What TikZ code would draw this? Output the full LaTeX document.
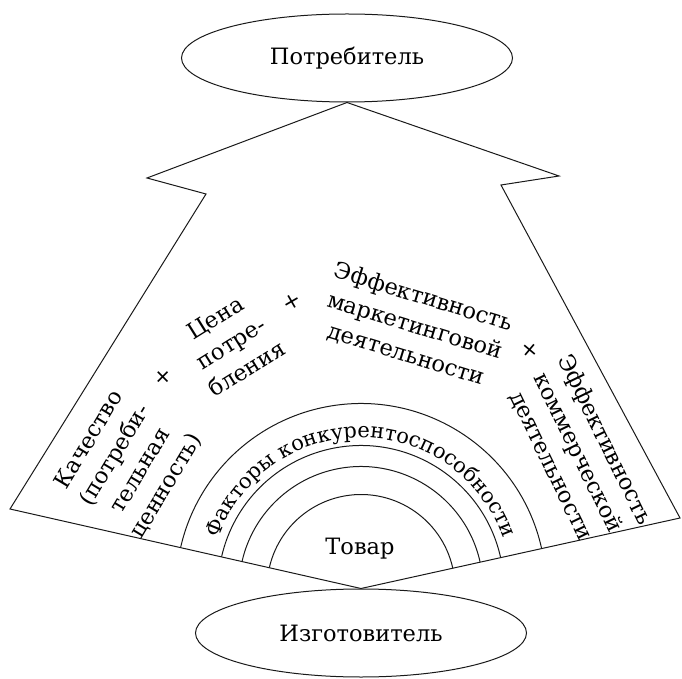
\documentclass[tikz,border=0pt]{standalone}
\usepackage{fontspec}
\setmainfont{DejaVu Serif}
\usetikzlibrary{shapes.geometric,decorations.text}
\newcommand\arcfont{\fontsize{21}{24}\selectfont}

\begin{document}
\begin{tikzpicture}[x=1pt,y=1pt,line width=1pt,black!90,
      oval/.style={draw,ellipse,minimum width=331pt,minimum height=88pt,inner sep=0pt},
      lbl/.style={text=black,align=center,font=\fontsize{22.5}{30}\selectfont},
      plus/.style={text=black,font=\fontsize{22}{24}\selectfont}]
      \useasboundingbox (0,0) rectangle (682,678);
      \node[oval,lbl] (cons) at (347,620) {Потребитель};
      \node[oval,lbl] (maker) at (361,45) {Изготовитель};
      \coordinate (ro) at (559,502);
      \coordinate (ri) at (501,493);
      \coordinate (rb) at (680,160);
      \coordinate (lb) at (10,169);
      \coordinate (li) at (206,484);
      \coordinate (lo) at (147,500);
      \draw (cons.south)--(ro)--(ri)--(rb)--(maker.north)--(lb)--(li)--(lo)--cycle;
      \foreach \r in {94,122,143,185}
            \draw (maker.north) ++(12.55:\r) arc[start angle=12.55,end angle=167.16,radius=\r];
      \path[decorate,decoration={text along path,text align=center,
            text={|\arcfont|Факторы конкурентоспособности}}]
            (maker.north) ++(167:151) arc[start angle=167,end angle=13,radius=151];
      \node[lbl] (goods) at (360,129) {Товар};
      \node[lbl,rotate=59] (quality) at (128,215) {Качество\\(потреби-\\тельная\\ценность)};
      \node[lbl,rotate=32] (price) at (231,335) {Цена\\потре-\\бления};
      \node[lbl,rotate=-17] (market) at (415,352) {Эффективность\\маркетинговой\\деятельности};
      \node[lbl,rotate=-64] (commerce) at (578,225) {Эффективность\\коммерческой\\деятельности};
      \node[plus,rotate=45] (p1) at (163,301) {+};
      \node[plus,rotate=30] (p2) at (292,376) {+};
      \node[plus,rotate=-40] (p3) at (530,328) {+};
\end{tikzpicture}
\end{document}
